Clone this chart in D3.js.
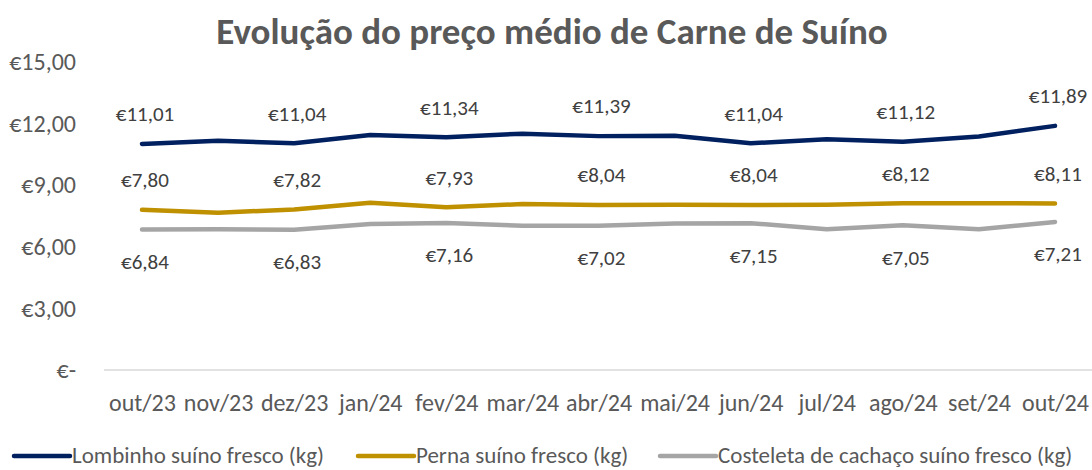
<!DOCTYPE html>
<html>
<head>
<meta charset="utf-8">
<script src="https://cdn.jsdelivr.net/npm/d3@7/dist/d3.min.js"></script>
<style>
  html, body { margin: 0; padding: 0; background: #fff; }
  svg { display: block; }
  text { font-family: Carlito, Calibri, Lato, sans-serif; }
</style>
</head>
<body>
<svg id="chart" width="1092" height="470"></svg>
<script>
const title = "Evolução do preço médio de Carne de Suíno";
const months = ["out/23","nov/23","dez/23","jan/24","fev/24","mar/24","abr/24","mai/24","jun/24","jul/24","ago/24","set/24","out/24"];
const yTicks = [0, 3, 6, 9, 12, 15];
const lombinho  = [11.01, 11.17, 11.04, 11.45, 11.34, 11.51, 11.39, 11.41, 11.04, 11.24, 11.12, 11.37, 11.89];
const perna     = [7.80, 7.66, 7.82, 8.15, 7.93, 8.08, 8.04, 8.05, 8.04, 8.05, 8.12, 8.12, 8.11];
const costeleta = [6.84, 6.85, 6.83, 7.11, 7.16, 7.03, 7.02, 7.13, 7.15, 6.85, 7.05, 6.85, 7.21];
const seriesNames = ["Lombinho suíno fresco (kg)", "Perna suíno fresco (kg)", "Costeleta de cachaço suíno fresco (kg)"];
const seriesColors = ["#002060", "#BF9000", "#A5A5A5"];

const series = [
  { name: seriesNames[0], values: lombinho, color: seriesColors[0], labelPos: "above" },
  { name: seriesNames[1], values: perna, color: seriesColors[1], labelPos: "above" },
  { name: seriesNames[2], values: costeleta, color: seriesColors[2], labelPos: "below" }
];

const FONT = "Carlito, Calibri, Lato, sans-serif";
const svg = d3.select("#chart");
const x = d3.scalePoint().domain(months).range([142, 1055]);
const y = d3.scaleLinear().domain([0, 15]).range([370, 62]);

const fmt = v => "€" + d3.format(".2f")(v).replace(".", ",");
const tickFmt = v => v === 0 ? "€-" : fmt(v);

// title
svg.append("text")
  .attr("x", 552).attr("y", 44)
  .attr("text-anchor", "middle")
  .attr("font-size", 37).attr("font-weight", "bold")
  .attr("fill", "#595959")
  .text(title);

// y axis (labels only) and zero line
const yAxis = d3.axisLeft(y).tickValues(yTicks).tickFormat(tickFmt).tickSize(0).tickPadding(0);
const ya = svg.append("g").attr("transform", "translate(76,0)").call(yAxis);
ya.select(".domain").remove();
ya.selectAll("text").attr("font-size", 24).attr("fill", "#595959")
  .style("font-family", FONT);

svg.append("line")
  .attr("x1", 104).attr("x2", 1092)
  .attr("y1", y(0)).attr("y2", y(0))
  .attr("stroke", "#D9D9D9").attr("stroke-width", 1.5);

// x axis labels
const xAxis = d3.axisBottom(x).tickSize(0).tickPadding(0);
const xa = svg.append("g").attr("transform", "translate(0,403)").call(xAxis);
xa.select(".domain").remove();
xa.selectAll("text").attr("y", 0).attr("dy", "0.35em")
  .attr("font-size", 24).attr("fill", "#595959")
  .style("font-family", FONT);

// lines
const line = d3.line().x((d, i) => x(months[i])).y(d => y(d));
series.forEach(s => {
  svg.append("path")
    .datum(s.values)
    .attr("d", line)
    .attr("fill", "none")
    .attr("stroke", s.color)
    .attr("stroke-width", 4.5)
    .attr("stroke-linejoin", "round")
    .attr("stroke-linecap", "round");

  svg.append("g").selectAll("text")
    .data(s.values.map((v, i) => ({ v, i })).filter(d => d.i % 2 === 0))
    .join("text")
    .attr("x", d => x(months[d.i]) + 3)
    .attr("y", d => y(d.v) + (s.labelPos === "above" ? -30 : 32))
    .attr("dy", "0.35em")
    .attr("text-anchor", "middle")
    .attr("font-size", 21)
    .attr("fill", "#404040")
    .text(d => fmt(d.v));
});

// legend
const legendX = [14, 358, 660];
series.forEach((s, i) => {
  const g = svg.append("g").attr("transform", `translate(${legendX[i]},456)`);
  g.append("line").attr("x1", 0).attr("x2", 56).attr("y1", 0).attr("y2", 0)
    .attr("stroke", s.color).attr("stroke-width", 4.5).attr("stroke-linecap", "round");
  g.append("text").attr("x", 58).attr("y", 0).attr("dy", "0.3em")
    .attr("font-size", 23).attr("fill", "#595959").text(s.name);
});
</script>
</body>
</html>
